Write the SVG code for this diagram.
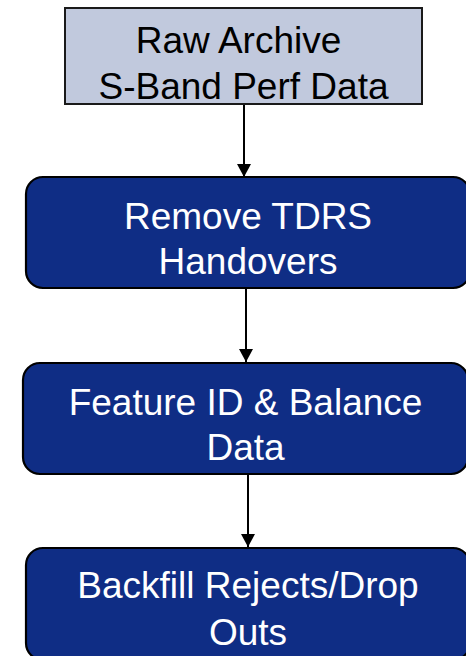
<svg xmlns="http://www.w3.org/2000/svg" width="466" height="656" viewBox="0 0 466 656">
  <defs>
    <marker id="arrowhead" viewBox="0 0 13 14" refX="13" refY="7" markerWidth="13" markerHeight="14" markerUnits="userSpaceOnUse" orient="auto">
      <path d="M0,0 L13,7 L0,14 Z" fill="#000"/>
    </marker>
  </defs>
  <style>
    .source { fill: #c1c9dd; stroke: #1a1a1a; stroke-width: 2; }
    .step { fill: #0f2d85; stroke: #000; stroke-width: 2.2; }
    .label { font-family: "Liberation Sans", Arial, sans-serif; font-size: 37px; text-anchor: middle; }
    .dark { fill: #000; }
    .light { fill: #fff; }
    .edge { stroke: #000; stroke-width: 2; fill: none; marker-end: url(#arrowhead); }
  </style>
  <rect width="466" height="656" fill="#fff"/>

  <g id="connectors">
    <line class="edge" x1="244" y1="105" x2="244" y2="177"/>
    <line class="edge" x1="246" y1="289" x2="246" y2="362"/>
    <line class="edge" x1="248" y1="475" x2="248" y2="547"/>
  </g>

  <g id="raw-archive">
    <rect class="source" x="65" y="8" width="357" height="96"/>
    <text class="label dark" x="238.5" y="53">Raw Archive</text>
    <text class="label dark" x="243.5" y="99">S-Band Perf Data</text>
  </g>

  <g id="remove-handovers">
    <rect class="step" x="26" y="177" width="444" height="111" rx="17" ry="17"/>
    <text class="label light" x="248" y="229">Remove TDRS</text>
    <text class="label light" x="248" y="274">Handovers</text>
  </g>

  <g id="feature-id">
    <rect class="step" x="23" y="363" width="445" height="111" rx="17" ry="17"/>
    <text class="label light" x="245.5" y="415">Feature ID &amp; Balance</text>
    <text class="label light" x="245.5" y="460">Data</text>
  </g>

  <g id="backfill">
    <rect class="step" x="26" y="548" width="444" height="112" rx="17" ry="17"/>
    <text class="label light" x="248" y="598">Backfill Rejects/Drop</text>
    <text class="label light" x="248" y="645">Outs</text>
  </g>
</svg>
